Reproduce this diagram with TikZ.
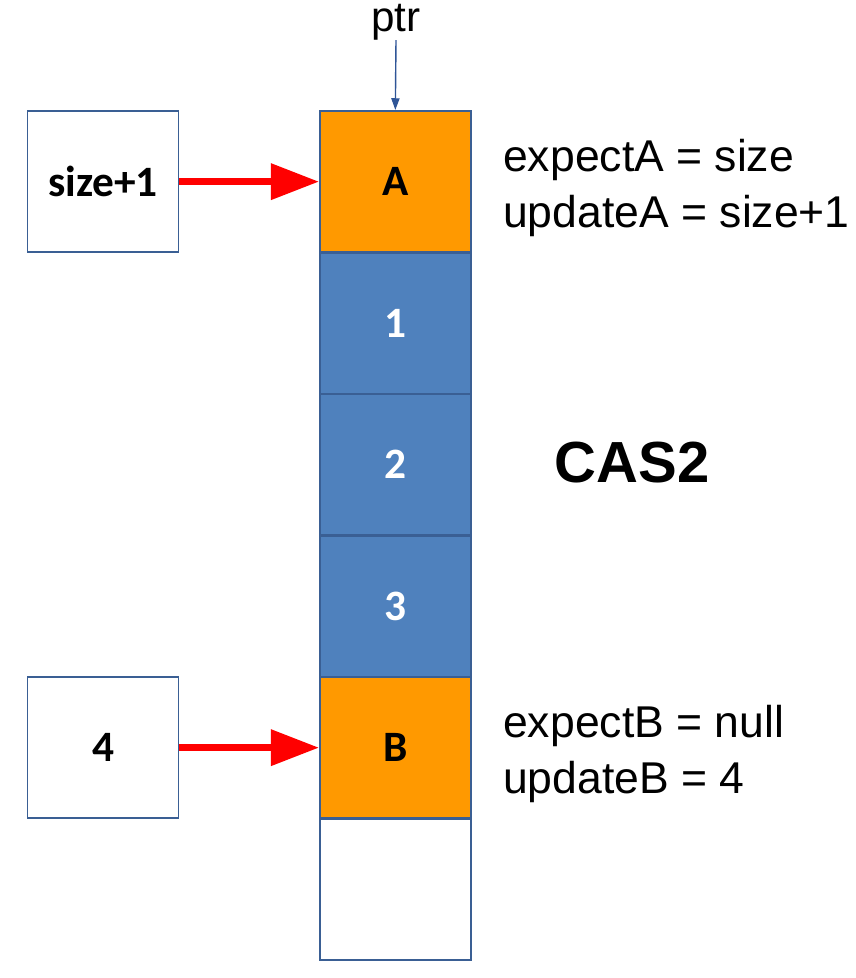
\documentclass[tikz,border=0pt]{standalone}
\usepackage{fontspec}
\setmainfont{Liberation Sans}
\newfontfamily\carlito{Carlito}
\usetikzlibrary{arrows.meta}
\definecolor{cellline}{HTML}{3A5F94}
\definecolor{cellblue}{HTML}{4F81BD}
\definecolor{cellorange}{HTML}{FF9900}
\definecolor{ptrline}{HTML}{2F5597}
\tikzset{
	cell/.style={shape=rectangle,draw=cellline,line width=1.6pt,minimum width=4.53cm,minimum height=4.245cm,inner sep=0pt,font=\carlito\bfseries\fontsize{37}{44}\selectfont},
	note/.style={inner sep=0pt,align=left,anchor=west,font=\fontsize{38}{47}\selectfont},
	push/.style={draw=red,line width=5.5pt,-{Triangle[length=41pt,width=30pt]}}
}

\begin{document}
\begin{tikzpicture}
	\useasboundingbox (0,0) rectangle (25.65,29.34);
	\node[cell,fill=cellorange] (A) at (11.86, 23.89) {A};
	\node[cell,fill=cellblue,text=white] (c1) at (11.86, 19.64) {1};
	\node[cell,fill=cellblue,text=white] (c2) at (11.86, 15.40) {2};
	\node[cell,fill=cellblue,text=white] (c3) at (11.86, 11.15) {3};
	\node[cell,fill=cellorange] (B) at (11.86, 6.91) {B};
	\node[cell,fill=white] (c5) at (11.86, 2.66) {};
	\node[cell,fill=white] (newA) at (3.09, 23.89) {size+1};
	\node[cell,fill=white] (newB) at (3.09, 6.91) {4};
	\node[inner sep=0pt,font=\fontsize{36}{43}\selectfont] (ptr) at (11.88, 28.68) {ptr};
	\node[note] (casA) at (15.09, 23.70) {expectA = size\\updateA = size+1};
	\node[note] (casB) at (15.09, 6.72) {expectB = null\\updateB = 4};
	\node[inner sep=0pt,font=\bfseries\fontsize{49.5}{58}\selectfont] (cas) at (18.96, 15.45) {CAS2};
	\path[push] (newA) -- (A);
	\path[push] (newB) -- (B);
	\draw[ptrline,line width=1.2pt,-{Triangle[length=10pt,width=7pt]}] (ptr.south) -- (A.north);
\end{tikzpicture}
\end{document}
